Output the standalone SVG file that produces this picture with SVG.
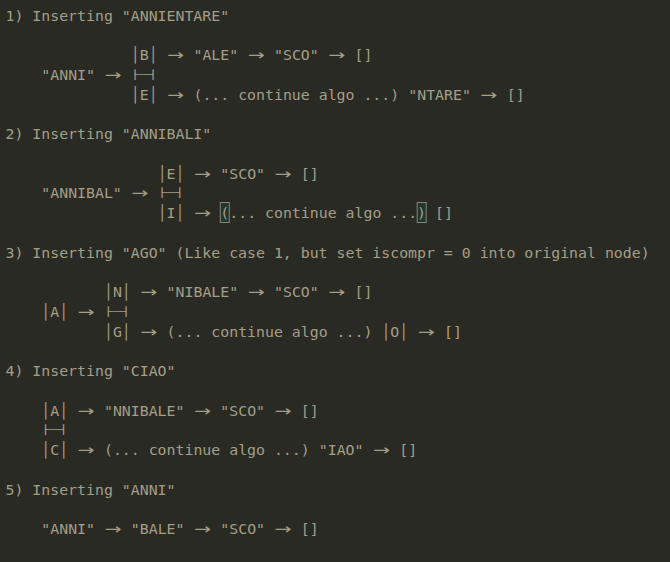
<svg xmlns="http://www.w3.org/2000/svg" width="670" height="562" viewBox="0 0 670 562">
<style>
text{font-family:"DejaVu Sans Mono","Liberation Mono",monospace;font-size:14.86px;fill:#a39e86}
.ar{font-family:"DejaVu Sans",sans-serif;font-size:15px;text-anchor:middle}
.hl{fill:#21362c;stroke:#858579;stroke-width:1}
</style>
<rect width="670" height="562" fill="#2a2a25"/>
<g id="section1">
<text x="5.5" y="20.5">1) Inserting "ANNIENTARE"</text>
<text y="60"><tspan x="130.8">│B│</tspan><tspan x="193.45">"ALE"</tspan><tspan x="274">"SCO"</tspan><tspan x="354.55">[]</tspan></text>
<text x="41.3" y="79.75">"ANNI"</text>
<text transform="translate(130.8,74.65) scale(1,0.62)" x="0" y="5.1">├─┤</text>
<text y="99.5"><tspan x="130.8">│E│</tspan><tspan x="193.45">(... continue algo ...)</tspan><tspan x="408.25">"NTARE"</tspan><tspan x="506.7">[]</tspan></text>
</g>
<g id="section2">
<text x="5.5" y="139">2) Inserting "ANNIBALI"</text>
<text y="178.5"><tspan x="157.65">│E│</tspan><tspan x="220.3">"SCO"</tspan><tspan x="300.85">[]</tspan></text>
<text x="41.3" y="198.25">"ANNIBAL"</text>
<text transform="translate(157.65,193.15) scale(1,0.62)" x="0" y="5.1">├─┤</text>
<rect class="hl" x="220.3" y="202.5" width="9" height="20"/>
<rect class="hl" x="417.2" y="202.5" width="9" height="20"/>
<text y="218"><tspan x="157.65">│I│</tspan><tspan x="220.3">(... continue algo ...)</tspan><tspan x="435.1">[]</tspan></text>
</g>
<g id="section3">
<text x="5.5" y="257.5">3) Inserting "AGO" (Like case 1, but set iscompr = 0 into original node)</text>
<text y="297"><tspan x="103.95">│N│</tspan><tspan x="166.6">"NIBALE"</tspan><tspan x="274">"SCO"</tspan><tspan x="354.55">[]</tspan></text>
<text x="41.3" y="316.75">│A│</text>
<text transform="translate(103.95,311.65) scale(1,0.62)" x="0" y="5.1">├─┤</text>
<text y="336.5"><tspan x="103.95">│G│</tspan><tspan x="166.6">(... continue algo ...)</tspan><tspan x="381.4">│O│</tspan><tspan x="444.05">[]</tspan></text>
</g>
<g id="section4">
<text x="5.5" y="376">4) Inserting "CIAO"</text>
<text y="415.5"><tspan x="41.3">│A│</tspan><tspan x="103.95">"NNIBALE"</tspan><tspan x="220.3">"SCO"</tspan><tspan x="300.85">[]</tspan></text>
<text transform="translate(41.3,430.15) scale(1,0.62)" x="0" y="5.1">├─┤</text>
<text y="455"><tspan x="41.3">│C│</tspan><tspan x="103.95">(... continue algo ...)</tspan><tspan x="318.75">"IAO"</tspan><tspan x="399.3">[]</tspan></text>
</g>
<g id="section5">
<text x="5.5" y="494.5">5) Inserting "ANNI"</text>
<text y="534"><tspan x="41.3">"ANNI"</tspan><tspan x="130.8">"BALE"</tspan><tspan x="220.3">"SCO"</tspan><tspan x="300.85">[]</tspan></text>
</g>
<g id="connectors">
<text class="ar" transform="translate(175.55,60) scale(1.35,1)">→</text>
<text class="ar" transform="translate(256.1,60) scale(1.35,1)">→</text>
<text class="ar" transform="translate(336.65,60) scale(1.35,1)">→</text>
<text class="ar" transform="translate(112.9,79.75) scale(1.35,1)">→</text>
<text class="ar" transform="translate(175.55,99.5) scale(1.35,1)">→</text>
<text class="ar" transform="translate(488.8,99.5) scale(1.35,1)">→</text>
<text class="ar" transform="translate(202.4,178.5) scale(1.35,1)">→</text>
<text class="ar" transform="translate(282.95,178.5) scale(1.35,1)">→</text>
<text class="ar" transform="translate(139.75,198.25) scale(1.35,1)">→</text>
<text class="ar" transform="translate(202.4,218) scale(1.35,1)">→</text>
<text class="ar" transform="translate(148.7,297) scale(1.35,1)">→</text>
<text class="ar" transform="translate(256.1,297) scale(1.35,1)">→</text>
<text class="ar" transform="translate(336.65,297) scale(1.35,1)">→</text>
<text class="ar" transform="translate(86.05,316.75) scale(1.35,1)">→</text>
<text class="ar" transform="translate(148.7,336.5) scale(1.35,1)">→</text>
<text class="ar" transform="translate(426.15,336.5) scale(1.35,1)">→</text>
<text class="ar" transform="translate(86.05,415.5) scale(1.35,1)">→</text>
<text class="ar" transform="translate(202.4,415.5) scale(1.35,1)">→</text>
<text class="ar" transform="translate(282.95,415.5) scale(1.35,1)">→</text>
<text class="ar" transform="translate(86.05,455) scale(1.35,1)">→</text>
<text class="ar" transform="translate(381.4,455) scale(1.35,1)">→</text>
<text class="ar" transform="translate(112.9,534) scale(1.35,1)">→</text>
<text class="ar" transform="translate(202.4,534) scale(1.35,1)">→</text>
<text class="ar" transform="translate(282.95,534) scale(1.35,1)">→</text>
</g>
</svg>
